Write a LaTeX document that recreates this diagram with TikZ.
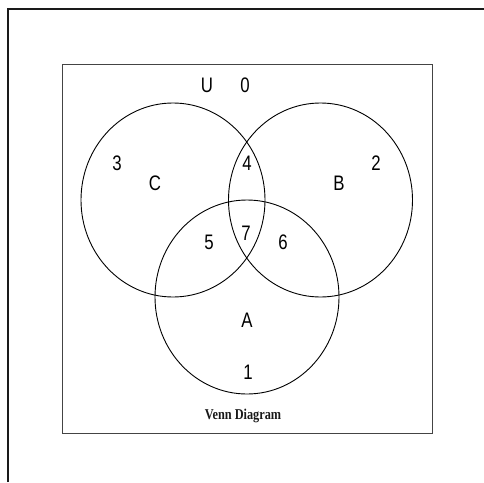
\documentclass[tikz,border=0pt]{standalone}
\usepackage{fontspec}
\setmainfont{Liberation Serif}
\newfontfamily\setfont[FakeStretch=0.8]{Liberation Sans}
\newfontfamily\capfont[FakeStretch=0.82]{Liberation Serif}
\usetikzlibrary{positioning}
\definecolor{frameink}{HTML}{1A1A1A}
\definecolor{boxink}{HTML}{444444}
\tikzset{
    setring/.style={draw=black, line width=0.9pt},
    lbl/.style={inner sep=0pt, font=\setfont\fontsize{21}{21}\selectfont, text=black},
    caption/.style={inner sep=0pt, anchor=base, font=\capfont\bfseries\fontsize{15}{15}\selectfont, text=black!90},
}
\begin{document}
\begin{tikzpicture}[x=1pt, y=-1pt]

\useasboundingbox (0,0) rectangle (484,482);

% ── Frames ──
\draw[frameink, line width=1.4pt] (8,482) -- (8,9) -- (484,9);
\draw[boxink, line width=1pt] (62,64) rectangle (432,433);

% ── Sets ──
\coordinate (cC) at (173,200);
\coordinate (cB) at (320.5,200);
\coordinate (cA) at (247,297);

\draw[setring] (cC) ellipse [x radius=92, y radius=97];
\draw[setring] (cB) ellipse [x radius=92, y radius=97];
\draw[setring] (cA) ellipse [x radius=92, y radius=97];

% ── Labels ──
\node[lbl] (univ) at (207,85) {U};
\node[lbl] (r0) at (245,85) {0};
\node[lbl] (r3) at (117,163) {3};
\node[lbl] (nameC) at (155,183) {C};
\node[lbl] (r4) at (247,163) {4};
\node[lbl] (nameB) at (339,183) {B};
\node[lbl] (r2) at (376,163) {2};
\node[lbl] (r5) at (209,242) {5};
\node[lbl] (r7) at (246,233) {7};
\node[lbl] (r6) at (283,242) {6};
\node[lbl] (nameA) at (247,320) {A};
\node[lbl] (r1) at (248,372) {1};

\node[caption] (title) at (243,419) {Venn Diagram};

\end{tikzpicture}
\end{document}
